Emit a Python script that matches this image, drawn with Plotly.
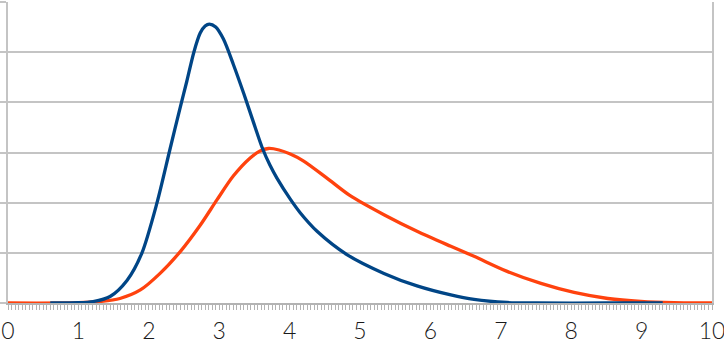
import plotly.graph_objects as go

# Blue series
blue_x = [0.6, 1.0, 1.21, 1.45, 1.69, 1.9, 2.115, 2.30, 2.45, 2.54, 2.64, 2.73, 2.80, 2.86, 2.95, 3.06, 3.20, 3.35,
          3.48, 3.61, 3.72, 3.82, 4.01, 4.15, 4.39, 4.82, 5.34, 5.81, 6.29, 6.62, 7.09, 7.5, 8.5, 9.3]
blue_y = [0.0, 0.005, 0.03, 0.13, 0.45, 0.99, 1.99, 3.06, 3.92, 4.42, 5.0, 5.38, 5.52, 5.56, 5.5, 5.26, 4.76, 4.17,
          3.63, 3.10, 2.75, 2.49, 2.07, 1.80, 1.43, 0.96, 0.59, 0.34, 0.16, 0.07, 0.01, 0.0, 0.0, 0.0]

# Orange series
orange_x = [0.0, 1.0, 1.31, 1.59, 1.88, 2.16, 2.45, 2.73, 2.97, 3.20, 3.44, 3.58, 3.70, 3.85, 4.01, 4.20, 4.53, 4.86,
            5.34, 5.81, 6.29, 6.62, 7.09, 7.57, 8.04, 8.52, 8.99, 9.46, 10.0]
orange_y = [0.0, 0.005, 0.03, 0.09, 0.26, 0.59, 1.03, 1.55, 2.06, 2.53, 2.89, 3.03, 3.08, 3.05, 2.97, 2.83, 2.49, 2.14,
            1.76, 1.43, 1.13, 0.93, 0.63, 0.39, 0.21, 0.09, 0.03, 0.005, 0.0]

x_ticks = list(range(0, 11))
x_tick_labels = [str(v) for v in x_ticks]

fig = go.Figure()
fig.add_trace(go.Scatter(x=orange_x, y=orange_y, mode="lines",
                         line=dict(color="#ff420e", width=3.3, shape="spline", smoothing=0.8),
                         hoverinfo="skip", showlegend=False))
fig.add_trace(go.Scatter(x=blue_x, y=blue_y, mode="lines",
                         line=dict(color="#004586", width=3.3, shape="spline", smoothing=0.8),
                         hoverinfo="skip", showlegend=False))

fig.update_layout(
    width=724, height=345,
    margin=dict(l=8, r=12, t=2, b=42),
    paper_bgcolor="white", plot_bgcolor="white",
    showlegend=False,
    xaxis=dict(range=[0, 10], tickvals=x_ticks, ticktext=x_tick_labels, automargin=False,
               showgrid=False, zeroline=False,
               showline=True, linecolor="#b3b3b3", linewidth=1.5,
               ticks="outside", ticklen=5, tickcolor="#b3b3b3", tickwidth=1,
               minor=dict(dtick=0.05, ticks="outside", ticklen=5, tickcolor="#b3b3b3", tickwidth=1, showgrid=False),
               ticklabeloverflow="allow", ticklabelstandoff=2,
               tickfont=dict(family="Lato", size=23, color="#1a1a1a", weight=300)),
    yaxis=dict(range=[0, 6], dtick=1, showticklabels=False, automargin=False,
               showgrid=True, gridcolor="#c4c4c4", gridwidth=1.5, zeroline=False,
               showline=True, linecolor="#c4c4c4", linewidth=1.5, mirror=True,
               ticks="outside", ticklen=6, tickcolor="#c4c4c4", tickwidth=1.5),
)

fig.write_html("out.html")
